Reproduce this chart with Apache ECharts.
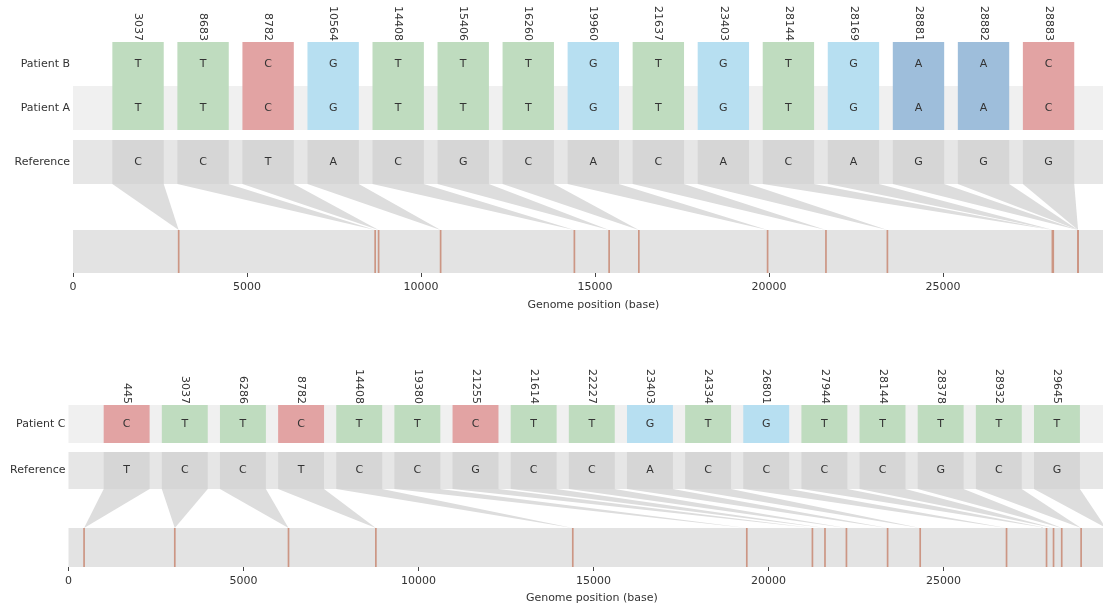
<!DOCTYPE html>
<html><head><meta charset="utf-8">
<script src="https://cdn.jsdelivr.net/npm/echarts@6/dist/echarts.min.js"></script>
<style>html,body{margin:0;padding:0;background:#fff}#c{width:1103px;height:605px}</style>
</head><body><div id="c"></div><script>
// ---------- data ----------
const topPositions = [3037, 8683, 8782, 10564, 14408, 15406, 16260, 19960, 21637, 23403, 28144, 28169, 28881, 28882, 28883];
const patientB = ['T','T','C','G','T','T','T','G','T','G','T','G','A','A','C'];
const patientA = ['T','T','C','G','T','T','T','G','T','G','T','G','A','A','C'];
const topReference = ['C','C','T','A','C','G','C','A','C','A','C','A','G','G','G'];

const bottomPositions = [445, 3037, 6286, 8782, 14408, 19380, 21255, 21614, 22227, 23403, 24334, 26801, 27944, 28144, 28378, 28932, 29645];
const patientC = ['C','T','T','C','T','T','C','T','T','G','T','G','T','T','T','T','T'];
const bottomReference = ['T','C','C','T','C','C','G','C','C','A','C','C','C','C','G','C','G'];

const genomeLength = 29903;
const genomeTicks = [0, 5000, 10000, 15000, 20000, 25000];
const axisTitle = 'Genome position (base)';

// ---------- style ----------
const FONT = 'DejaVu Sans';
const TXT = '#333333';
const baseColor = { T: '#bfdcbf', C: '#e2a3a3', G: '#b7dff1', A: '#9ebedb' };
const REF_BOX = '#d6d6d6';
const CONNECT = '#dddddd';
const MUT_LINE = '#cc9684';
const BOX_FRAC = 0.79;

const chart = echarts.init(document.getElementById('c'), null, { renderer: 'canvas' });

function cats(positions) { return [''].concat(positions.map(String)).concat(['']); }

function boxSeries(xi, items, opts) {
  return {
    type: 'custom', xAxisIndex: xi, yAxisIndex: xi, silent: true,
    data: items.map(d => [d.x, d.y]),
    renderItem: function (params, api) {
      const d = items[params.dataIndex];
      const c = api.coord([d.x, d.y]);
      const s = api.size([1, 1]);
      const w = s[0] * BOX_FRAC, h = s[1];
      const children = [];
      if (opts.connect) {
        let gx = NaN, gy = NaN;
        try {
          gx = chart.convertToPixel({ xAxisIndex: opts.gx }, d.pos);
          gy = chart.convertToPixel({ yAxisIndex: opts.gx }, 1);
        } catch (e) {}
        if (isFinite(gx) && isFinite(gy)) {
          children.push({ type: 'polygon', shape: { points: [[c[0] - w / 2, c[1] + h / 2], [c[0] + w / 2, c[1] + h / 2], [gx, gy]] }, style: { fill: CONNECT } });
        }
      }
      children.push({ type: 'rect', shape: { x: c[0] - w / 2, y: c[1] - h / 2, width: w, height: h }, style: { fill: opts.ref ? REF_BOX : baseColor[d.base] } });
      children.push({ type: 'text', style: { text: d.base, x: c[0], y: c[1], align: 'center', verticalAlign: 'middle', fill: TXT, font: '11px "' + FONT + '"' } });
      return { type: 'group', children: children };
    }
  };
}

function lineSeries(xi, positions) {
  return {
    type: 'custom', xAxisIndex: xi, yAxisIndex: xi, silent: true,
    data: positions.map(p => [p]),
    renderItem: function (params, api) {
      const p0 = api.coord([api.value(0), 0]);
      const p1 = api.coord([api.value(0), 1]);
      return { type: 'line', shape: { x1: p0[0], y1: p0[1], x2: p1[0], y2: p1[1] }, style: { stroke: MUT_LINE, lineWidth: 1.7 } };
    }
  };
}

function catX(gi, positions, showLabels) {
  return {
    gridIndex: gi, type: 'category', data: cats(positions), boundaryGap: false, position: 'top',
    axisLine: { show: false }, axisTick: { show: false }, splitLine: { show: false },
    axisLabel: { show: showLabels, rotate: 90, interval: 0, margin: 1, fontSize: 11, color: TXT, fontFamily: FONT }
  };
}
function catY(gi, rows, split) {
  const a = {
    gridIndex: gi, type: 'category', data: rows,
    axisLine: { show: false }, axisTick: { show: false }, splitLine: { show: false },
    axisLabel: { margin: 3, fontSize: 11, color: TXT, fontFamily: FONT }
  };
  if (split) a.splitArea = { show: true, areaStyle: { color: split } };
  return a;
}
function genomeX(gi, gap) {
  return {
    gridIndex: gi, type: 'value', min: 0, max: genomeLength, interval: 5000, position: 'bottom',
    axisLine: { show: false, onZero: false }, splitLine: { show: false },
    axisTick: { show: true, length: 4, customValues: genomeTicks, lineStyle: { color: '#444', width: 1 } },
    axisLabel: { margin: 9, fontSize: 11, color: TXT, fontFamily: FONT, customValues: genomeTicks, formatter: v => String(v) },
    name: axisTitle, nameLocation: 'middle', nameGap: gap,
    nameTextStyle: { fontSize: 11, color: TXT, fontFamily: FONT }
  };
}
function genomeY(gi) { return { gridIndex: gi, type: 'value', min: 0, max: 1, show: false }; }

function grid(left, width, top, height, bg) {
  const g = { left: left, width: width, top: top, height: height, containLabel: false, outerBoundsMode: 'none', borderWidth: 0 };
  if (bg) { g.show = true; g.backgroundColor = bg; }
  return g;
}

function items(positions, bases, yIdx) {
  return positions.map((p, i) => ({ x: i + 1, y: yIdx, base: bases[i], pos: p }));
}

const TL = 73, TW = 1040.6, BL = 68.5, BW = 1046.6;

const option = {
  animation: false,
  backgroundColor: '#ffffff',
  grid: [
    grid(TL, TW, 42, 88, null),
    grid(TL, TW, 140, 44, '#e6e6e6'),
    grid(TL, TW, 230, 43, '#e3e3e3'),
    grid(BL, BW, 405, 38, '#f0f0f0'),
    grid(BL, BW, 452, 37, '#e6e6e6'),
    grid(BL, BW, 528, 39, '#e3e3e3')
  ],
  xAxis: [
    catX(0, topPositions, true), catX(1, topPositions, false), genomeX(2, 27),
    catX(3, bottomPositions, true), catX(4, bottomPositions, false), genomeX(5, 26)
  ],
  yAxis: [
    catY(0, ['Patient A', 'Patient B'], ['#f0f0f0', 'rgba(255,255,255,0)']), catY(1, ['Reference']), genomeY(2),
    catY(3, ['Patient C']), catY(4, ['Reference']), genomeY(5)
  ],
  series: [
    boxSeries(0, items(topPositions, patientA, 0).concat(items(topPositions, patientB, 1)), {}),
    boxSeries(1, items(topPositions, topReference, 0), { ref: true, connect: true, gx: 2 }),
    lineSeries(2, topPositions),
    boxSeries(3, items(bottomPositions, patientC, 0), {}),
    boxSeries(4, items(bottomPositions, bottomReference, 0), { ref: true, connect: true, gx: 5 }),
    lineSeries(5, bottomPositions)
  ]
};
chart.setOption(option);
chart.setOption(option);
</script></body></html>
